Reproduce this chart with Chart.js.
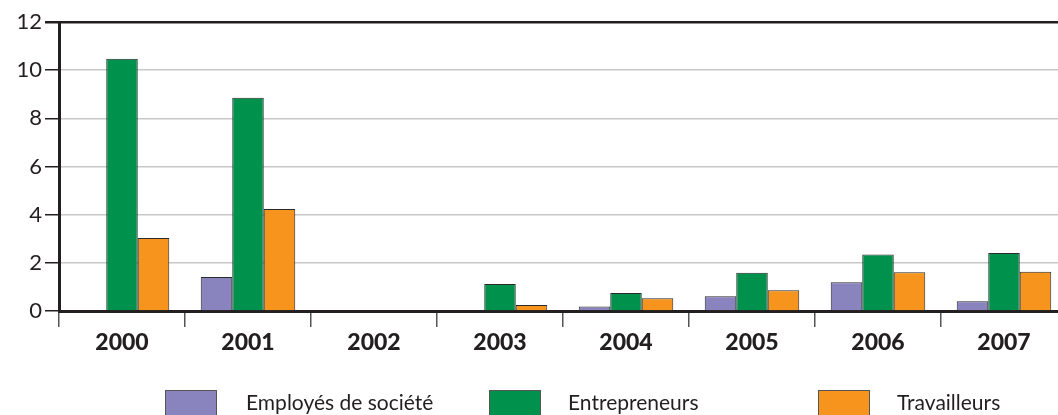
<!DOCTYPE html>
<html>
<head>
<meta charset="utf-8">
<script src="https://cdn.jsdelivr.net/npm/chart.js@4.4.0/dist/chart.umd.min.js"></script>
<style>
  html, body { margin: 0; padding: 0; background: #fff; overflow: hidden; width: 1058px; height: 415px; }
  #wrap { position: relative; width: 1058px; height: 415px; }
  canvas { position: absolute; left: 0; top: 0; }
  .lg-box { position: absolute; top: 390px; width: 52px; height: 30px; border: 1px solid #555; box-sizing: border-box; }
  .lg-text { position: absolute; top: 389px; font: 21px Lato, sans-serif; color: #231f20; white-space: nowrap; }
</style>
</head>
<body>
<div id="wrap">
  <canvas id="chart" width="1070" height="415"></canvas>
</div>
<script>
const categories = ["2000", "2001", "2002", "2003", "2004", "2005", "2006", "2007"];
const employes = [0, 1.41, 0, 0, 0.19, 0.61, 1.19, 0.4];
const entrepreneurs = [10.47, 8.85, 0, 1.12, 0.75, 1.59, 2.35, 2.41];
const travailleurs = [3.03, 4.24, 0, 0.25, 0.53, 0.86, 1.61, 1.63];
const yTicks = [0, 2, 4, 6, 8, 10, 12];

const seriesNames = ["Employés de société", "Entrepreneurs", "Travailleurs"];
const seriesColors = ["#8a84be", "#00914c", "#f7941d"];

const ctx = document.getElementById("chart").getContext("2d");

new Chart(ctx, {
  type: "bar",
  data: {
    labels: categories,
    datasets: [employes, entrepreneurs, travailleurs].map((values, i) => ({
      label: seriesNames[i],
      data: values,
      backgroundColor: seriesColors[i],
      borderColor: "#2a2a2a",
      borderWidth: 1,
      categoryPercentage: 0.75,
      barPercentage: 1.0,
    })),
  },
  options: {
    responsive: false,
    animation: false,
    layout: {
      padding: { top: 22, right: 3, left: 0, bottom: 0 },
    },
    plugins: {
      legend: { display: false },
      tooltip: { enabled: false },
    },
    scales: {
      x: {
        afterFit: (scale) => {
          scale.height = 104;
        },
        grid: {
          drawOnChartArea: false,
          drawTicks: true,
          tickLength: 16,
          tickColor: "#555",
          lineWidth: 1.5,
        },
        border: {
          color: "#231f20",
          width: 3,
        },
        ticks: {
          color: "#231f20",
          padding: 2,
          font: {
            size: 23,
            weight: 900,
            family: "Lato, sans-serif",
          },
        },
      },
      y: {
        min: 0,
        max: 12,
        afterFit: (scale) => {
          scale.width = 59;
        },
        afterBuildTicks: (scale) => {
          scale.ticks = yTicks.map((v) => ({ value: v }));
        },
        grid: {
          color: (c) => (c.tick && (c.tick.value === 12 || c.tick.value === 0) ? "#231f20" : "#c8c8c8"),
          lineWidth: (c) => (c.tick && c.tick.value === 12 ? 2.5 : 1.5),
          tickColor: "#231f20",
          tickLength: 14,
        },
        border: {
          color: "#231f20",
          width: 3,
        },
        ticks: {
          color: "#231f20",
          padding: 3,
          font: {
            size: 22,
            family: "Lato, sans-serif",
          },
        },
      },
    },
  },
});

// legend built from the series names and colours
const legendX = [{ box: 165, text: 246 }, { box: 489, text: 568 }, { box: 818, text: 897 }];
const wrap = document.getElementById("wrap");
seriesNames.forEach((name, i) => {
  const box = document.createElement("div");
  box.className = "lg-box";
  box.style.left = legendX[i].box + "px";
  box.style.background = seriesColors[i];
  wrap.appendChild(box);

  const text = document.createElement("div");
  text.className = "lg-text";
  text.style.left = legendX[i].text + "px";
  text.textContent = name;
  wrap.appendChild(text);
});
</script>
</body>
</html>
